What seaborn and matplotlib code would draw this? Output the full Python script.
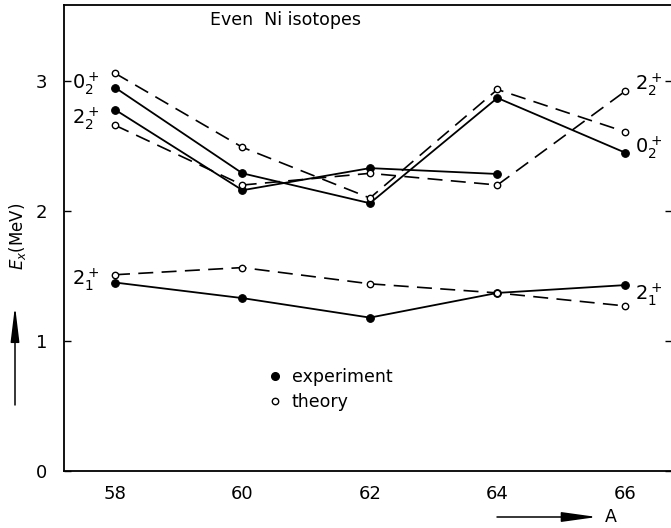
import matplotlib
matplotlib.use("Agg")
import matplotlib.pyplot as plt
import seaborn as sns
import pandas as pd
from matplotlib.lines import Line2D

# ---- data ----
A = [58, 60, 62, 64, 66]
A_exp_22 = [58, 60, 62, 64]
exp_21 = [1.45, 1.33, 1.18, 1.37, 1.43]
th_21 = [1.51, 1.565, 1.44, 1.37, 1.27]
exp_02 = [2.95, 2.29, 2.06, 2.87, 2.45]
th_02 = [3.06, 2.49, 2.10, 2.935, 2.61]
exp_22 = [2.78, 2.16, 2.33, 2.285]
th_22 = [2.66, 2.20, 2.29, 2.20, 2.92]
xticks = [58, 60, 62, 64, 66]
yticks = [0, 1, 2, 3]
title = "Even  Ni isotopes"

sns.set_theme(style="white")
plt.rcParams["font.family"] = ["DejaVu Sans"]
plt.rcParams["mathtext.fontset"] = "dejavusans"
plt.rcParams["text.color"] = "black"

fig = plt.figure(figsize=(6.71, 5.28), dpi=100)
W, H = 671, 528
ax = fig.add_axes([64 / W, (H - 471) / H, (672 - 64) / W, (471 - 5) / H])

DASH = (9, 5)
series = [
    (A, exp_21, "exp"), (A, th_21, "th"),
    (A, exp_02, "exp"), (A, th_02, "th"),
    (A_exp_22, exp_22, "exp"), (A, th_22, "th"),
]
for xs, ys, kind in series:
    df = pd.DataFrame({"A": xs, "E": ys})
    if kind == "exp":
        sns.lineplot(data=df, x="A", y="E", ax=ax, color="black", lw=1.3,
                     marker="o", markersize=5.5, markerfacecolor="black",
                     markeredgecolor="black", markeredgewidth=0.8, zorder=3)
    else:
        sns.lineplot(data=df, x="A", y="E", ax=ax, color="black", lw=1.2,
                     marker="o", markersize=4.6,
                     markerfacecolor="white", markeredgecolor="black",
                     markeredgewidth=1.0, zorder=4)
        ax.lines[-1].set_dashes(DASH)

ax.set_xlim(57.2, 66.74)
ax.set_ylim(0, 3.585)
ax.set_xticks(xticks)
ax.set_yticks(yticks)
ax.set_xlabel("")
ax.set_ylabel("")
ax.tick_params(axis="both", direction="in", length=5, width=1, labelsize=13,
               colors="black")
ax.tick_params(axis="y", right=True, left=True, pad=12)
ax.tick_params(axis="x", pad=10)
for s in ax.spines.values():
    s.set_color("black")
    s.set_linewidth(1.3)

# state labels
lab_kw = dict(textcoords="offset points", fontsize=14, va="center", color="black")
ax.annotate(r"$0_2^+$", xy=(58, 2.98), xytext=(-11, 0), ha="right", **lab_kw)
ax.annotate(r"$2_2^+$", xy=(58, 2.71), xytext=(-11, 0), ha="right", **lab_kw)
ax.annotate(r"$2_1^+$", xy=(58, 1.47), xytext=(-11, 0), ha="right", **lab_kw)
ax.annotate(r"$2_2^+$", xy=(66, 2.97), xytext=(7, 0), ha="left", **lab_kw)
ax.annotate(r"$0_2^+$", xy=(66, 2.49), xytext=(7, 0), ha="left", **lab_kw)
ax.annotate(r"$2_1^+$", xy=(66, 1.36), xytext=(7, 0), ha="left", **lab_kw)

ax.text(0.24, 0.968, title, transform=ax.transAxes, fontsize=12.5, va="center",
        ha="left", color="black")

# legend
handles = [
    Line2D([], [], ls="none", marker="o", markersize=5.5, color="black"),
    Line2D([], [], ls="none", marker="o", markersize=4.6, markerfacecolor="white",
           markeredgecolor="black", markeredgewidth=1.0),
]
leg = ax.legend(handles, ["experiment", "theory"], loc="upper left", frameon=False,
                bbox_to_anchor=((259 - 64) / 608, (471 - 359) / 466), fontsize=12.5,
                handlelength=0.8, handletextpad=0.6, labelspacing=0.4, borderpad=0)
for t in leg.get_texts():
    t.set_color("black")

# y label and arrows
fig.text(18 / W, (H - 236) / H, r"$E_x$(MeV)", rotation=90, fontsize=12,
         ha="center", va="center", color="black")
ax.annotate("", xy=(15, H - 306), xycoords="figure pixels",
            xytext=(15, H - 405), textcoords="figure pixels",
            arrowprops=dict(arrowstyle="-|>,head_length=1.8,head_width=0.22",
                            color="black", lw=1.1, shrinkA=0, shrinkB=0),
            annotation_clip=False)
ax.annotate("", xy=(597, H - 517), xycoords="figure pixels",
            xytext=(497, H - 517), textcoords="figure pixels",
            arrowprops=dict(arrowstyle="-|>,head_length=1.8,head_width=0.25",
                            color="black", lw=1.1, shrinkA=0, shrinkB=0),
            annotation_clip=False)
fig.text(605 / W, (H - 517) / H, "A", fontsize=12.5, ha="left", va="center",
         color="black")

fig.savefig("out.png", dpi=100)
